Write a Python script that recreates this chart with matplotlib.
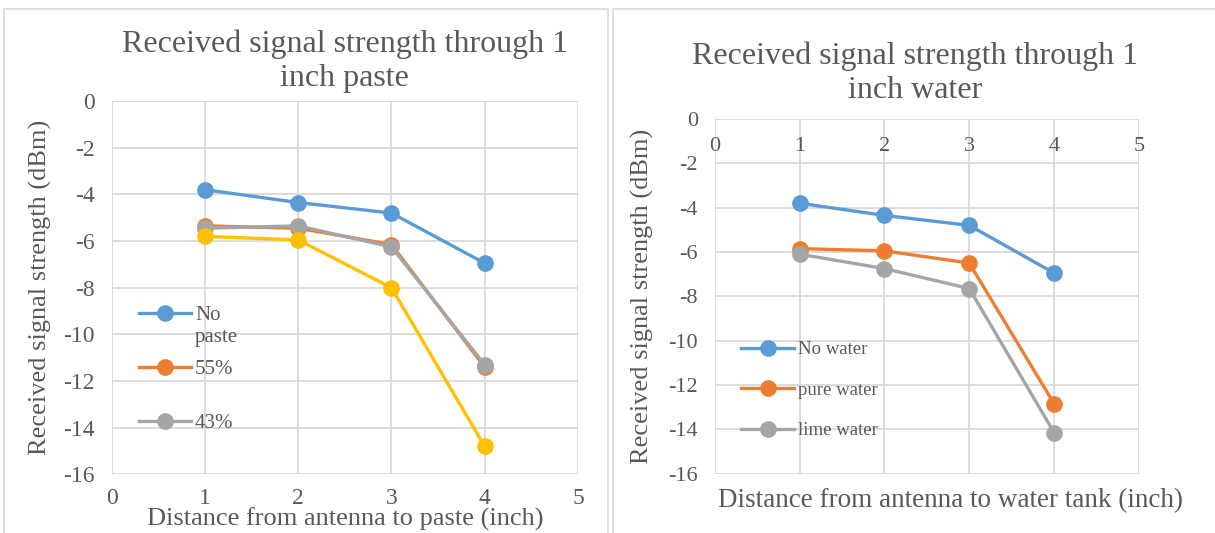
import matplotlib
matplotlib.use("Agg")
import matplotlib.pyplot as plt
from matplotlib.patches import Rectangle

plt.rcParams["font.family"] = ["Liberation Serif", "DejaVu Serif"]

TXT = "#595959"
GRID = "#D9D9D9"
BLUE, ORANGE, GRAY, YELLOW = "#5B9BD5", "#ED7D31", "#A5A5A5", "#FFC000"

# distances (inch)
dist = [1, 2, 3, 4]

# left chart: 1 inch paste
paste_none = [-3.8, -4.35, -4.8, -6.95]
paste_55 = [-5.35, -5.45, -6.15, -11.4]
paste_43 = [-5.45, -5.35, -6.25, -11.3]
paste_other = [-5.8, -5.95, -8.0, -14.8]
paste_labels = ["No", "55%", "43%"]

# right chart: 1 inch water
water_none = [-3.8, -4.35, -4.8, -6.95]
water_pure = [-5.85, -5.95, -6.5, -12.85]
water_lime = [-6.1, -6.75, -7.65, -14.15]
water_labels = ["No water", "pure water", "lime water"]

xticks = [0, 1, 2, 3, 4, 5]
yticks = [0, -2, -4, -6, -8, -10, -12, -14, -16]

fig = plt.figure(figsize=(12.15, 5.33), dpi=100)

# chart borders
fig.patches.append(Rectangle((4 / 1215, -0.01), 604 / 1215, 1 - 9 / 533 + 0.01,
                             transform=fig.transFigure, fill=False, ec=GRID, lw=1.2))
fig.patches.append(Rectangle((613 / 1215, -0.01), 610 / 1215, 1 - 9 / 533 + 0.01,
                             transform=fig.transFigure, fill=False, ec=GRID, lw=1.2))


def style(ax, fs):
    ax.set_xlim(0, 5)
    ax.set_ylim(-16, 0)
    ax.set_xticks(xticks)
    ax.set_yticks(yticks)
    ax.set_yticklabels([str(v) for v in yticks])
    ax.grid(True, color=GRID, lw=1.3)
    ax.set_axisbelow(True)
    for s in ax.spines.values():
        s.set_visible(False)
    ax.tick_params(length=0, labelsize=fs, colors=TXT)


def plot_line(ax, y, c):
    ax.plot(dist, y, color=c, lw=2.4, marker="o", ms=11, clip_on=False)


# left
ax1 = fig.add_axes([0.0919, 0.1098, 0.3838, 0.7007])
style(ax1, 17)
ax1.tick_params(axis="y", pad=12)
ax1.tick_params(axis="x", pad=10)
plot_line(ax1, paste_none, BLUE)
plot_line(ax1, paste_55, ORANGE)
plot_line(ax1, paste_43, GRAY)
plot_line(ax1, paste_other, YELLOW)
ax1.set_title("Received signal strength through 1\ninch paste", fontsize=23,
              color=TXT, pad=11, linespacing=1.2)
ax1.set_ylabel("Received signal strength (dBm)", fontsize=19, color=TXT, labelpad=8)
ax1.set_xlabel("Distance from antenna to paste (inch)", fontsize=19, color=TXT, labelpad=-1)
h = ax1.get_lines()[:3]
ax1.legend(h, paste_labels, loc="upper left", bbox_to_anchor=(0.04, 0.475),
           frameon=False, fontsize=15, labelcolor=TXT, handlelength=2.5,
           handletextpad=0.2, labelspacing=1.65, borderaxespad=0)
# wrapped second line of the first legend entry
ax1.text(0.1786, 0.367, "paste", transform=ax1.transAxes, ha="left", va="center",
         fontsize=15, color=TXT)

# right
ax2 = fig.add_axes([0.5882, 0.1116, 0.3492, 0.6651])
style(ax2, 16)
ax2.spines["bottom"].set_position(("data", 0))
ax2.tick_params(axis="y", pad=12)
ax2.tick_params(axis="x", pad=13)
plot_line(ax2, water_none, BLUE)
plot_line(ax2, water_pure, ORANGE)
plot_line(ax2, water_lime, GRAY)
ax2.set_title("Received signal strength through 1\ninch water", fontsize=23,
              color=TXT, pad=15, linespacing=1.25, x=0.472)
ax2.set_ylabel("Received signal strength (dBm)", fontsize=19, color=TXT, labelpad=10)
ax2.set_xlabel("Distance from antenna to water tank (inch)", fontsize=19.5, color=TXT)
ax2.xaxis.set_label_coords(0.555, -0.04)
ax2.legend(ax2.get_lines(), water_labels, loc="upper left", bbox_to_anchor=(0.045, 0.395),
           frameon=False, fontsize=13.5, labelcolor=TXT, handlelength=2.8,
           handletextpad=0.2, labelspacing=1.25, borderaxespad=0)

fig.savefig("out.png", dpi=100)
